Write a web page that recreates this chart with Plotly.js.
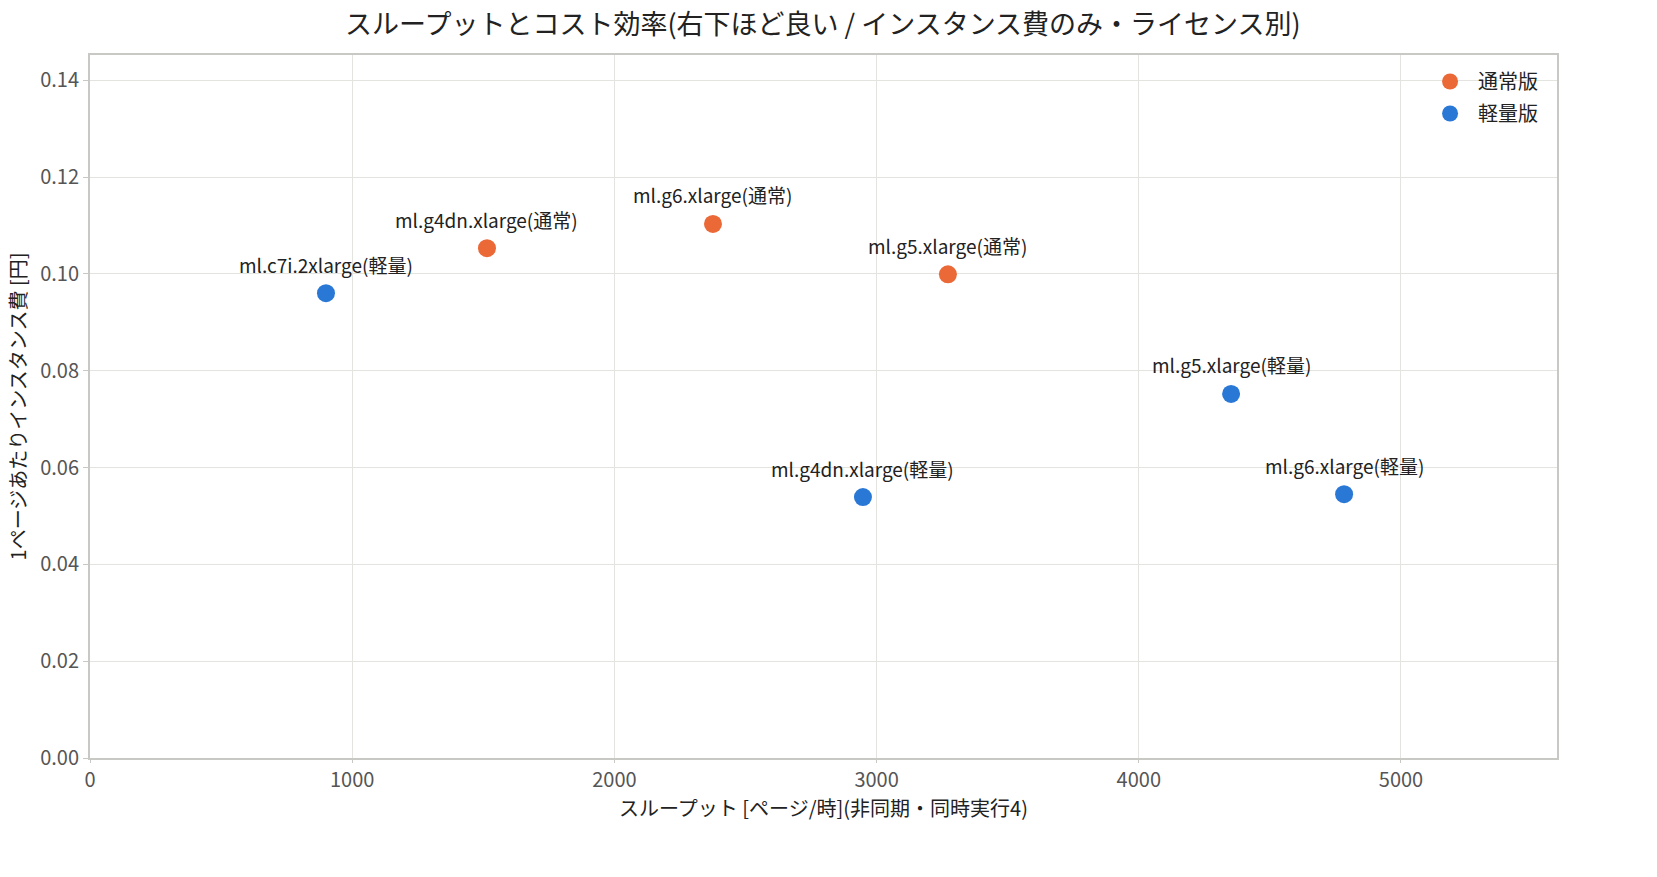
<!DOCTYPE html>
<html>
<head>
<meta charset="utf-8">
<script src="https://cdn.plot.ly/plotly-3.0.1.min.js"></script>
<style>html,body{margin:0;padding:0;background:#fff;}#chart{width:1657px;height:877px;}</style>
</head>
<body>
<div id="chart"></div>
<script>
const normalNames = ["ml.g4dn.xlarge(通常)", "ml.g6.xlarge(通常)", "ml.g5.xlarge(通常)"];
const normalThroughput = [1514, 2376, 3272];
const normalCost = [0.1053, 0.1103, 0.0999];

const liteNames = ["ml.c7i.2xlarge(軽量)", "ml.g4dn.xlarge(軽量)", "ml.g5.xlarge(軽量)", "ml.g6.xlarge(軽量)"];
const liteThroughput = [900, 2948, 4352, 4783];
const liteCost = [0.0960, 0.0539, 0.0752, 0.0545];

const seriesNames = ["通常版", "軽量版"];

const FONT = '"Noto Sans CJK JP", "Noto Sans", sans-serif';

const traces = [
  {
    type: 'scatter', mode: 'markers', name: seriesNames[0], legendgroup: 'a',
    x: normalThroughput, y: normalCost, text: normalNames, hoverinfo: 'text',
    marker: {size: 18, color: '#EB6837'},
    cliponaxis: false
  },
  {
    type: 'scatter', mode: 'markers', name: seriesNames[1], legendgroup: 'b',
    x: liteThroughput, y: liteCost, text: liteNames, hoverinfo: 'text',
    marker: {size: 18, color: '#2A78D6'},
    cliponaxis: false
  }
];

function labels(xs, ys, names) {
  return names.map((t, i) => ({
    x: xs[i], y: ys[i], xref: 'x', yref: 'y', text: t, showarrow: false,
    xanchor: 'center', yanchor: 'middle', yshift: 29,
    font: {family: FONT, size: 19, color: '#222'}
  }));
}

const layout = {
  width: 1657, height: 877,
  margin: {l: 90, r: 100, t: 55, b: 119},
  paper_bgcolor: '#fff', plot_bgcolor: '#fff',
  font: {family: FONT, size: 19, color: '#222'},
  title: {text: 'スループットとコスト効率(右下ほど良い / インスタンス費のみ・ライセンス別)',
          font: {family: FONT, size: 27, color: '#222'}, x: 0.4966, xanchor: 'center', y: 0.972, yanchor: 'middle'},
  xaxis: {
    title: {text: 'スループット [ページ/時](非同期・同時実行4)', font: {size: 20, color: '#222'}, standoff: 3},
    range: [0, 5595], dtick: 1000, tick0: 0,
    showgrid: true, gridcolor: '#e3e3e0', gridwidth: 1,
    showline: true, linecolor: '#c8c8c4', linewidth: 2, mirror: true,
    ticks: 'outside', ticklen: 3, tickcolor: '#c8c8c4',
    tickfont: {size: 20, color: '#555'}, zeroline: false
  },
  yaxis: {
    title: {text: '1ページあたりインスタンス費 [円]', font: {size: 20, color: '#222'}, standoff: 8},
    range: [0, 0.1452], dtick: 0.02, tick0: 0, tickformat: '.2f',
    showgrid: true, gridcolor: '#e3e3e0', gridwidth: 1,
    showline: true, linecolor: '#c8c8c4', linewidth: 2, mirror: true,
    ticks: 'outside', ticklen: 5, tickcolor: '#c8c8c4',
    tickfont: {size: 20, color: '#555'}, zeroline: false
  },
  legend: {
    x: 0.9905, xanchor: 'right', y: 0.99, yanchor: 'top',
    bgcolor: 'rgba(255,255,255,0)', font: {size: 20, color: '#222'},
    itemsizing: 'trace', itemwidth: 46, tracegroupgap: 3
  },
  annotations: labels(normalThroughput, normalCost, normalNames)
    .concat(labels(liteThroughput, liteCost, liteNames)),
  showlegend: true
};

Plotly.newPlot('chart', traces, layout, {displayModeBar: false, staticPlot: true});
</script>
</body>
</html>
